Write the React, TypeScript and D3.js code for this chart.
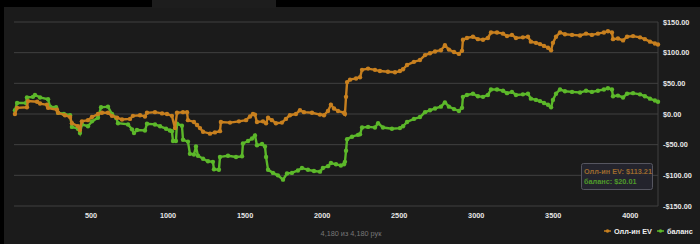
import React from "react";
import * as d3 from "d3";

const evHands = [6,20,84,91,150,169,214,221,279,286,331,364,376,415,428,441,480,506,545,571,610,636,669,701,753,772,818,850,863,915,961,993,1025,1045,1058,1097,1123,1129,1168,1188,1207,1227,1272,1304,1337,1343,1402,1460,1506,1532,1551,1564,1577,1616,1636,1649,1674,1700,1739,1765,1791,1830,1856,1882,1934,1986,2012,2038,2057,2077,2103,2142,2148,2155,2162,2181,2220,2246,2259,2298,2343,2375,2427,2473,2505,2525,2551,2596,2635,2668,2700,2733,2771,2797,2823,2856,2888,2908,2914,2940,2979,3011,3044,3076,3096,3135,3174,3200,3232,3258,3303,3336,3355,3388,3414,3440,3466,3486,3498,3518,3544,3576,3622,3674,3713,3751,3790,3829,3855,3881,3888,3920,3953,3979,4018,4063,4095,4128,4160,4180];
const evValues = [0,10,11,21,20,17,15,10,7,2,-2,-5,-15,-20,-26,-12,-10,-5,0,2,2,-3,-6,-9,-8,-3,-2,-4,2,3,1,0,-3,-23,2,3,3,-10,-13,-18,-23,-29,-32,-30,-28,-13,-14,-12,-10,-4,0,-1,-13,-12,-15,-6,-10,-15,-14,-8,-2,0,6,3,2,-1,-2,5,15,9,5,2,0,28,52,56,58,60,72,74,72,70,69,68,70,73,80,85,88,96,99,102,104,112,105,101,98,103,121,124,126,122,121,124,133,133,131,127,129,124,125,126,118,116,114,111,108,104,116,126,133,130,129,128,131,129,131,133,135,133,122,123,120,126,127,125,122,118,115,113.21];

const balHands = [6,20,78,84,123,136,169,221,234,273,286,324,364,376,415,428,441,480,506,545,565,610,636,662,675,740,766,779,798,850,863,915,948,987,1012,1025,1032,1051,1058,1090,1097,1129,1142,1168,1181,1194,1227,1259,1291,1298,1330,1337,1389,1441,1480,1486,1519,1545,1564,1577,1610,1629,1636,1649,1681,1713,1746,1772,1804,1843,1869,1908,1947,1986,2005,2038,2057,2090,2122,2142,2148,2155,2162,2194,2233,2246,2259,2298,2343,2363,2395,2453,2505,2525,2551,2596,2635,2668,2700,2733,2771,2797,2823,2856,2888,2908,2914,2940,2979,3011,3044,3076,3096,3135,3174,3200,3232,3258,3303,3336,3355,3388,3414,3440,3466,3486,3498,3518,3544,3576,3622,3674,3713,3751,3790,3829,3855,3881,3888,3920,3953,3979,4018,4063,4095,4128,4160,4180];
const balValues = [6,18,18,27,28,31,27,24,12,11,2,0,-2,-21,-24,-31,-17,-20,-12,-6,11,12,0,-6,-15,-17,-25,-31,-26,-27,-16,-17,-20,-24,-27,-28,-44,-44,-16,-19,-42,-45,-65,-66,-53,-68,-73,-77,-78,-90,-91,-70,-68,-70,-69,-48,-44,-40,-35,-51,-49,-53,-70,-91,-96,-100,-107,-97,-96,-92,-88,-91,-93,-94,-88,-85,-80,-82,-84,-82,-78,-60,-41,-37,-34,-33,-22,-21,-22,-15,-22,-24,-23,-20,-13,-8,-5,3,6,9,12,19,12,8,5,10,28,31,33,29,28,31,40,40,38,34,36,31,32,33,25,23,21,18,15,11,23,33,40,37,36,35,38,36,38,40,42,40,29,30,27,33,34,32,29,25,22,20.01];

const xTicks = [500,1000,1500,2000,2500,3000,3500,4000];
const yTicks = [150,100,50,0,-50,-100,-150];
const seriesNames = ["Олл-ин EV", "баланс"];
const tooltipLines = ["Олл-ин EV: $113.21", "баланс: $20.01"];
const footer = "4,180 из 4,180 рук";

const W = 700, H = 244;
const ORANGE = "#c8801f";
const GREEN = "#5cb82a";
const FONT = "'Liberation Sans', Arial, sans-serif";
const FS = 7.3;

export default function App() {
  const x = d3.scaleLinear().domain([0, 4180]).range([14, 658]);
  const y = d3.scaleLinear().domain([-150, 150]).range([206, 22]);
  const ev = evHands.map((h, i) => [h, evValues[i]] as [number, number]);
  const bal = balHands.map((h, i) => [h, balValues[i]] as [number, number]);
  const line = d3.line<[number, number]>().x(d => x(d[0])).y(d => y(d[1]));
  const fmt = (v: number) => (v < 0 ? "-$" : "$") + Math.abs(v).toFixed(2);

  const series = [
    { data: bal, color: GREEN },
    { data: ev, color: ORANGE },
  ];

  return (
    <svg width={W} height={H} style={{ position: "absolute", left: 0, top: 0, background: "#000" }}>
      <rect x={4} y={7} width={W - 4} height={H - 7} fill="#1b1b1b" />
      <rect x={152} y={0} width={124} height={8} fill="#1d1d1d" />
      {yTicks.map(t => (
        <g key={t}>
          <line x1={14} x2={658} y1={y(t)} y2={y(t)} stroke="#404040" strokeWidth={1} />
          <text x={663} y={y(t) + 2.7} fill="#e6e6e6" fontSize={FS} fontWeight="bold" fontFamily={FONT}>{fmt(t)}</text>
        </g>
      ))}
      <line x1={658} x2={658} y1={22} y2={206} stroke="#404040" strokeWidth={1} />
      {xTicks.map(t => (
        <text key={t} x={x(t)} y={218} fill="#e6e6e6" fontSize={FS} fontWeight="bold" fontFamily={FONT} textAnchor="middle">{t}</text>
      ))}
      {series.map((s, i) => (
        <g key={i}>
          <path d={line(s.data) || ""} fill="none" stroke={s.color} strokeWidth={2.4} />
          {s.data.map((d, j) => (
            <circle key={j} cx={x(d[0])} cy={y(d[1])} r={2.2} fill={s.color} />
          ))}
        </g>
      ))}
      <g>
        <rect x={581.5} y={163.5} width={71} height={26} rx={2} fill="#262630" fillOpacity={0.9} stroke="#565660" />
        <text x={584} y={174} fontSize={FS} fontWeight="bold" fontFamily={FONT} fill="#9c6a2e">{tooltipLines[0]}</text>
        <text x={584} y={184} fontSize={FS} fontWeight="bold" fontFamily={FONT} fill="#4f9a2a">{tooltipLines[1]}</text>
      </g>
      <text x={351} y={236} fontSize={FS} fontFamily={FONT} fill="#777" textAnchor="middle">{footer}</text>
      <g>
        <line x1={604} x2={611} y1={231} y2={231} stroke={ORANGE} strokeWidth={1.5} />
        <circle cx={607.5} cy={231} r={1.8} fill={ORANGE} />
        <text x={614} y={233.6} fontSize={FS} fontWeight="bold" fontFamily={FONT} fill="#eee">{seriesNames[0]}</text>
        <line x1={657} x2={664} y1={231} y2={231} stroke={GREEN} strokeWidth={1.5} />
        <circle cx={660.5} cy={231} r={1.8} fill={GREEN} />
        <text x={667} y={233.6} fontSize={FS} fontWeight="bold" fontFamily={FONT} fill="#eee">{seriesNames[1]}</text>
      </g>
    </svg>
  );
}
